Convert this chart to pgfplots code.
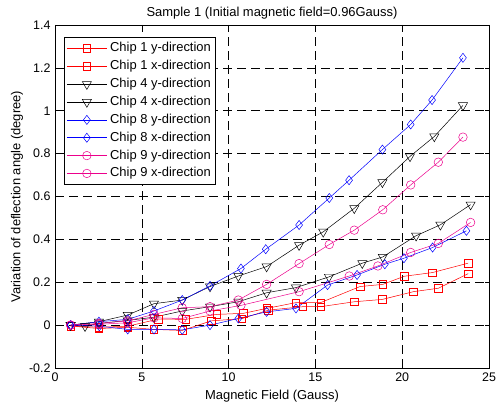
\documentclass[border=0pt]{standalone}
\usepackage{fontspec}
\setmainfont{Liberation Sans}
\usepackage{pgfplots}
\pgfplotsset{compat=1.18}
\begin{document}
\begin{tikzpicture}
\begin{axis}[
  at={(0,0)}, anchor=south west,
  width=434bp, height=343bp, scale only axis,
  xmin=0, xmax=25, ymin=-0.2, ymax=1.4,
  xtick={0,5,10,15,20,25},
  ytick={-0.2,0,0.2,0.4,0.6,0.8,1,1.2,1.4},
  yticklabels={-0.2,0,0.2,0.4,0.6,0.8,1,1.2,1.4},
  /pgf/number format/assume math mode=true,
  tick align=inside, tick pos=both,
  major tick length=4bp,
  tick style={black, line width=0.5pt},
  axis line style={black, line width=0.6pt},
  grid=major,
  major grid style={black, line width=0.6pt, dash pattern=on 9bp off 5bp},
  ticklabel style={font=\fontsize{12.5}{14}\selectfont},
  xticklabel style={yshift=-1bp},
  yticklabel style={xshift=-1bp},
  label style={font=\fontsize{13}{15}\selectfont},
  title style={font=\fontsize{13}{15}\selectfont, at={(0.5,1)}, anchor=center, yshift=6bp},
  title={Sample 1 (Initial magnetic field=0.96Gauss)},
  xlabel={Magnetic Field (Gauss)},
  ylabel={Variation of deflection angle (degree)},
  xlabel style={at={(0.5,0)}, anchor=center, yshift=-28bp},
  ylabel style={at={(0,0.5)}, anchor=center, yshift=38bp},
  legend style={at={(0.021,0.965)}, anchor=north west, draw=black, line width=1pt,
    font=\fontsize{13}{15}\selectfont, row sep=0pt, inner sep=2bp, fill=white,
    nodes={inner ysep=0pt, inner xsep=3bp, text height=12.4bp, text depth=5.46bp}},
  legend cell align=left,
  legend image code/.code={\draw[mark repeat=2,mark phase=2,line width=0.5pt]
     plot coordinates {(2bp,0bp) (22bp,0bp) (42bp,0bp)};},
  every axis plot/.append style={line width=0.5pt},
]
% Chip 1 y-direction
\addplot[red, mark=square, mark size=3.8pt] coordinates {
 (0.9,-0.004) (2.53,-0.01) (4.19,-0.005) (5.95,0.028) (7.53,0.027) (9.31,0.05)
 (10.85,0.055) (12.19,0.078) (13.88,0.105) (15.3,0.105) (17.57,0.18) (18.88,0.19)
 (20.12,0.228) (21.73,0.245) (23.8,0.289)};
% Chip 1 x-direction
\addplot[red, mark=square, mark size=3.8pt] coordinates {
 (0.9,-0.004) (2.53,-0.016) (4.19,-0.01) (5.7,-0.02) (7.33,-0.025) (9.0,0.02)
 (10.75,0.03) (12.3,0.07) (14.27,0.086) (15.3,0.086) (17.24,0.109) (18.86,0.12)
 (20.64,0.156) (22.08,0.172) (23.8,0.24)};
% Chip 4 y-direction
\addplot[black, mark=triangle, mark size=5.3pt, mark options={rotate=180}] coordinates {
 (0.9,0) (2.53,0.016) (4.19,0.047) (5.7,0.1) (7.33,0.117) (8.93,0.18) (10.56,0.229)
 (12.19,0.273) (14.06,0.373) (15.45,0.435) (17.24,0.545) (18.86,0.666) (20.45,0.787)
 (21.85,0.88) (23.5,1.025)};
% Chip 4 x-direction
\addplot[black, mark=triangle, mark size=5.3pt, mark options={rotate=180}] coordinates {
 (0.9,0) (1.73,-0.005) (2.53,0.008) (4.19,0.022) (5.7,0.037) (7.33,0.066) (8.93,0.086)
 (10.56,0.109) (12.19,0.151) (13.88,0.175) (15.78,0.225) (17.7,0.289) (18.88,0.318)
 (20.8,0.417) (22.2,0.468) (23.94,0.562)};
% Chip 8 y-direction
\addplot[blue, mark=diamond, mark size=4.6pt] coordinates {
 (0.9,0) (2.53,0.016) (4.19,0.027) (5.7,0.066) (7.33,0.117) (8.93,0.183) (10.71,0.264)
 (12.14,0.354) (14.06,0.467) (15.8,0.593) (16.94,0.676) (18.86,0.819) (20.49,0.936)
 (21.72,1.05) (23.5,1.247)};
% Chip 8 x-direction
\addplot[blue, mark=diamond, mark size=4.6pt] coordinates {
 (0.9,0) (2.55,-0.005) (4.19,-0.02) (5.7,-0.02) (7.33,-0.022) (8.93,0.0) (10.56,0.031)
 (12.19,0.062) (13.88,0.078) (15.7,0.187) (17.4,0.234) (19.0,0.284) (20.1,0.312)
 (21.75,0.362) (23.7,0.44)};
% Chip 9 y-direction
\addplot[magenta, mark=o, mark size=4.3pt] coordinates {
 (0.9,0) (2.53,0.008) (4.19,0.02) (5.7,0.05) (7.33,0.081) (8.93,0.086) (10.56,0.117)
 (12.19,0.19) (14.06,0.287) (15.8,0.376) (17.24,0.443) (18.88,0.538) (20.49,0.654)
 (22.08,0.76) (23.5,0.877)};
% Chip 9 x-direction
\addplot[magenta, mark=o, mark size=4.3pt] coordinates {
 (0.9,0) (2.53,0.004) (4.19,0.011) (5.7,0.034) (7.33,0.031) (8.93,0.066) (10.71,0.092)
 (14.06,0.156) (16.95,0.229) (18.6,0.276) (20.49,0.339) (22.08,0.381) (23.94,0.479)};
\legend{Chip 1 y-direction, Chip 1 x-direction, Chip 4 y-direction, Chip 4 x-direction,
        Chip 8 y-direction, Chip 8 x-direction, Chip 9 y-direction, Chip 9 x-direction}
\end{axis}
\pgfresetboundingbox
\path[use as bounding box] (-55bp,-39bp) rectangle (441bp,368bp);
\end{tikzpicture}
\end{document}
